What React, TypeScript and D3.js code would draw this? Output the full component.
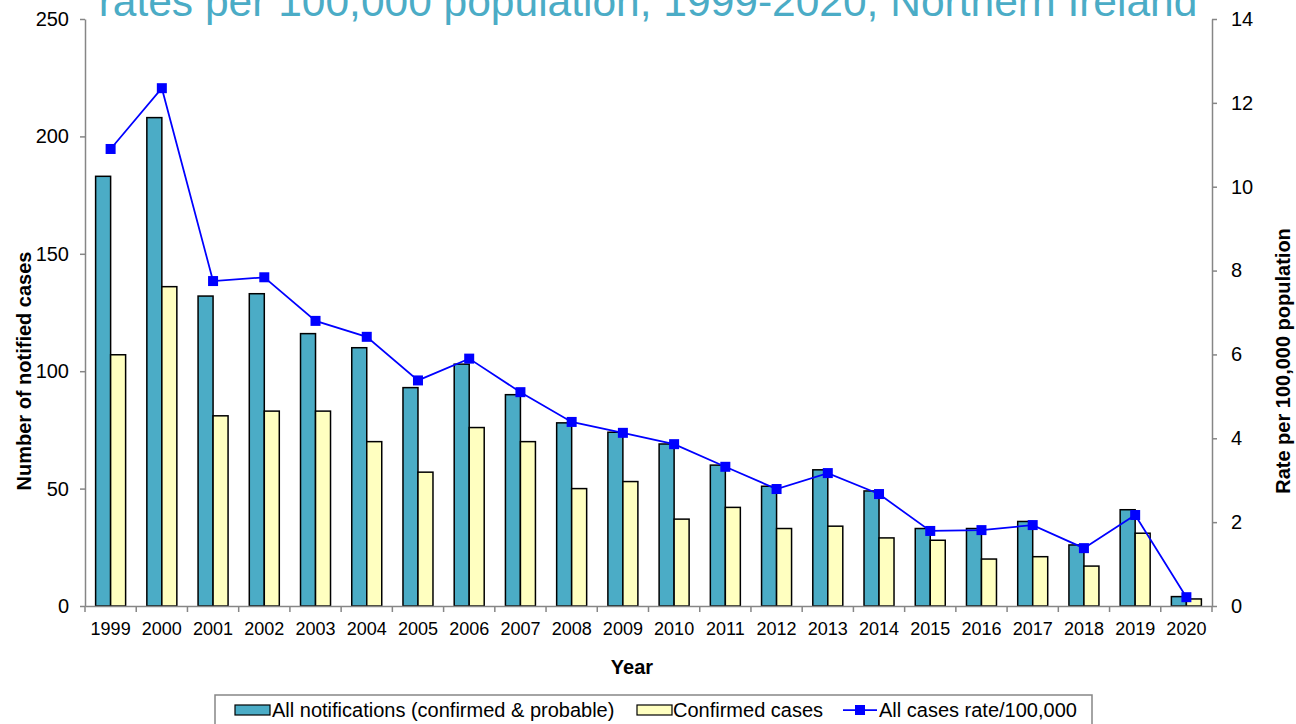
import React, { useEffect, useRef } from "react";
import * as d3 from "d3";

const years = [
  "1999", "2000", "2001", "2002", "2003", "2004", "2005", "2006", "2007", "2008", "2009",
  "2010", "2011", "2012", "2013", "2014", "2015", "2016", "2017", "2018", "2019", "2020",
];
const allNotifications = [183, 208, 132, 133, 116, 110, 93, 103, 90, 78, 74, 69, 60, 51, 58, 49, 33, 33, 36, 26, 41, 4];
const confirmedCases = [107, 136, 81, 83, 83, 70, 57, 76, 70, 50, 53, 37, 42, 33, 34, 29, 28, 20, 21, 17, 31, 3];
const ratePer100k = [10.9, 12.35, 7.75, 7.84, 6.8, 6.42, 5.38, 5.9, 5.1, 4.39, 4.13, 3.86, 3.32, 2.79, 3.17, 2.67, 1.79, 1.81, 1.93, 1.38, 2.17, 0.21];
const leftTicks = [0, 50, 100, 150, 200, 250];
const rightTicks = [0, 2, 4, 6, 8, 10, 12, 14];

const TEAL = "#4BACC6";
const YELLOW = "#FFFFC0";
const BLUE = "#0000FF";
const GRAY = "#868686";
const FONT = "'Liberation Sans', Arial, sans-serif";

const App: React.FC = () => {
  const svgRef = useRef<SVGSVGElement>(null);

  useEffect(() => {
    const svg = d3.select(svgRef.current);
    svg.selectAll("*").remove();
    const margin = { top: 19, bottom: 606, left: 85, right: 1212 };

    const x = d3.scaleBand().domain(years).range([margin.left, margin.right]);
    const yLeft = d3.scaleLinear().domain([0, 250]).range([margin.bottom, margin.top]);
    const yRight = d3.scaleLinear().domain([0, 14]).range([margin.bottom, margin.top]);
    const barW = 15;

    // title (cut off at the top, as in the original)
    svg
      .append("text")
      .attr("x", 648)
      .attr("y", 16)
      .attr("text-anchor", "middle")
      .style("font-family", FONT)
      .style("font-size", "42.5px")
      .attr("fill", TEAL)
      .text("rates per 100,000 population, 1999-2020, Northern Ireland");

    // bars
    const g = svg.append("g");
    g.selectAll("rect.all")
      .data(allNotifications)
      .join("rect")
      .attr("x", (d, i) => x(years[i])! + x.bandwidth() / 2 - barW)
      .attr("y", (d) => yLeft(d))
      .attr("width", barW)
      .attr("height", (d) => yLeft(0) - yLeft(d))
      .attr("fill", TEAL)
      .attr("stroke", "#000")
      .attr("stroke-width", 1.5);

    g.selectAll("rect.conf")
      .data(confirmedCases)
      .join("rect")
      .attr("x", (d, i) => x(years[i])! + x.bandwidth() / 2)
      .attr("y", (d) => yLeft(d))
      .attr("width", barW)
      .attr("height", (d) => yLeft(0) - yLeft(d))
      .attr("fill", YELLOW)
      .attr("stroke", "#000")
      .attr("stroke-width", 1.5);

    // axes
    const leftAxis = svg
      .append("g")
      .attr("transform", `translate(${margin.left},0)`)
      .call(d3.axisLeft(yLeft).tickValues(leftTicks).tickSize(5).tickSizeOuter(0));
    const rightAxis = svg
      .append("g")
      .attr("transform", `translate(${margin.right},0)`)
      .call(d3.axisRight(yRight).tickValues(rightTicks).tickSize(5).tickSizeOuter(0));
    const bottomAxis = svg
      .append("g")
      .attr("transform", `translate(0,${margin.bottom})`)
      .call(d3.axisBottom(x).tickSize(0).tickSizeOuter(0));

    // ticks between categories
    svg
      .append("g")
      .selectAll("line")
      .data(d3.range(years.length + 1))
      .join("line")
      .attr("x1", (i) => margin.left + i * x.step())
      .attr("x2", (i) => margin.left + i * x.step())
      .attr("y1", margin.bottom)
      .attr("y2", margin.bottom + 6)
      .attr("stroke", GRAY)
      .attr("stroke-width", 1.5);

    [leftAxis, rightAxis, bottomAxis].forEach((a) => {
      a.selectAll("path, line").attr("stroke", GRAY).attr("stroke-width", 1.5);
      a.selectAll("text")
        .style("font-family", FONT)
        .style("font-size", "20px")
        .attr("fill", "#000");
    });
    leftAxis.selectAll("text").attr("x", -16);
    rightAxis.selectAll("text").attr("x", 19);
    bottomAxis.selectAll("text").attr("y", 16).style("font-size", "18px");

    // rate line
    const line = d3
      .line<number>()
      .x((d, i) => x(years[i])! + x.bandwidth() / 2)
      .y((d) => yRight(d));
    svg
      .append("path")
      .datum(ratePer100k)
      .attr("fill", "none")
      .attr("stroke", BLUE)
      .attr("stroke-width", 1.75)
      .attr("d", line);
    svg
      .append("g")
      .selectAll("rect")
      .data(ratePer100k)
      .join("rect")
      .attr("x", (d, i) => x(years[i])! + x.bandwidth() / 2 - 5)
      .attr("y", (d) => yRight(d) - 5)
      .attr("width", 10)
      .attr("height", 10)
      .attr("fill", BLUE);

    // axis titles
    const bold = (sel: any) =>
      sel.style("font-family", FONT).style("font-size", "20px").style("font-weight", "bold").attr("text-anchor", "middle");
    svg.append("text").attr("x", 632).attr("y", 674).text("Year").call(bold);
    svg
      .append("text")
      .attr("transform", "translate(31,371) rotate(-90)")
      .text("Number of notified cases")
      .call(bold);
    svg
      .append("text")
      .attr("transform", "translate(1290,361) rotate(-90)")
      .text("Rate per 100,000 population")
      .call(bold);

    // legend
    const lg = svg.append("g");
    lg.append("rect")
      .attr("x", 215)
      .attr("y", 695)
      .attr("width", 877)
      .attr("height", 40)
      .attr("fill", "#fff")
      .attr("stroke", GRAY)
      .attr("stroke-width", 1.5);
    lg.append("rect").attr("x", 235).attr("y", 705).attr("width", 35).attr("height", 10).attr("fill", TEAL).attr("stroke", "#000").attr("stroke-width", 1.2);
    lg.append("text").attr("x", 272).attr("y", 717).text("All notifications (confirmed & probable)");
    lg.append("rect").attr("x", 637).attr("y", 705).attr("width", 35).attr("height", 10).attr("fill", YELLOW).attr("stroke", "#000").attr("stroke-width", 1.2);
    lg.append("text").attr("x", 673).attr("y", 717).text("Confirmed cases");
    lg.append("line").attr("x1", 843).attr("x2", 877).attr("y1", 710).attr("y2", 710).attr("stroke", BLUE).attr("stroke-width", 1.75);
    lg.append("rect").attr("x", 855).attr("y", 705).attr("width", 10).attr("height", 10).attr("fill", BLUE);
    lg.append("text").attr("x", 879).attr("y", 717).text("All cases rate/100,000");
    lg.selectAll("text").style("font-family", FONT).style("font-size", "20px");
  }, []);

  return (
    <svg
      ref={svgRef}
      width={1296}
      height={724}
      style={{ position: "absolute", left: 0, top: 0, background: "#fff" }}
    />
  );
};

export default App;
